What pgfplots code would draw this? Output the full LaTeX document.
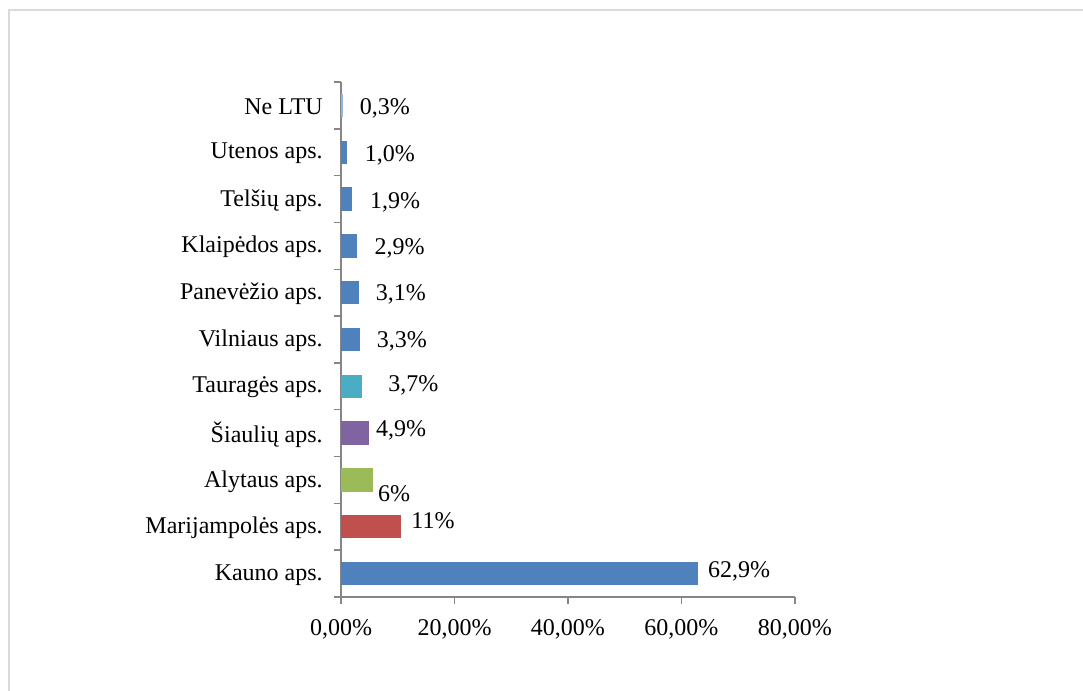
\documentclass[border=0pt]{standalone}
\usepackage{fontspec}
\setmainfont{Liberation Serif}
\usepackage{pgfplots}
\pgfplotsset{compat=1.18}
\definecolor{xlBlue}{HTML}{4F81BD}
\definecolor{xlRed}{HTML}{C0504D}
\definecolor{xlGreen}{HTML}{9BBB59}
\definecolor{xlPurple}{HTML}{8064A2}
\definecolor{xlTeal}{HTML}{4BACC6}
\definecolor{xlLight}{HTML}{8EB4E3}
\definecolor{AxisGray}{HTML}{868686}
\definecolor{FrameGray}{HTML}{D9D9D9}

% one bar per category, label offsets in px (1px = 0.75pt)
\newcommand{\onebar}[6]{%
  \addplot[xbar,bar width=0.5,bar shift=0pt,fill=#1,draw=none,
    nodes near coords={#3},
    nodes near coords style={anchor=west,inner sep=0pt,text=black,
      xshift=#4*0.75pt,yshift=#5*0.75pt}]
    coordinates {(#2,#6)};}

\begin{document}
\fontsize{18}{21.6}\selectfont
\begin{tikzpicture}
\useasboundingbox (0,0) rectangle (812.25pt,518.25pt);
\draw[FrameGray,line width=1pt] (6.75pt,-20pt) -- (6.75pt,510.75pt) -- (830pt,510.75pt);
\begin{axis}[
  at={(255.75pt,70.5pt)},anchor=south west,
  scale only axis,width=340.5pt,height=386.25pt,
  xmin=0,xmax=80,ymin=-0.5,ymax=10.5,
  axis x line*=bottom,axis y line*=left,
  axis line style={AxisGray,line width=1.1pt},
  tick align=outside,
  major tick length=5pt,
  tick style={AxisGray,line width=1.1pt},
  xtick={0,20,40,60,80},
  xticklabels={{0,00\%},{20,00\%},{40,00\%},{60,00\%},{80,00\%}},
  xticklabel style={anchor=north,inner sep=0pt,yshift=-11.5pt},
  ytick={-0.5,0.5,...,10.5},
  yticklabels={},
  extra y ticks={0,...,10},
  extra y tick labels={Kauno aps.,Marijampolės aps.,Alytaus aps.,Šiaulių aps.,Tauragės aps.,Vilniaus aps.,Panevėžio aps.,Klaipėdos aps.,Telšių aps.,Utenos aps.,Ne LTU},
  extra y tick style={major tick length=0pt,
    yticklabel style={anchor=east,inner sep=0pt,xshift=-13.5pt,yshift=-1pt}},
  tick label style={font=\fontsize{18}{21.6}\selectfont},
  every node near coord/.append style={font=\fontsize{18}{21.6}\selectfont},
  clip=false,
]
\onebar{xlBlue}{62.9}{62,9\%}{10}{2}{0}
\onebar{xlRed}{10.6}{11\%}{10}{6}{1}
\onebar{xlGreen}{5.6}{6\%}{5}{-14}{2}
\onebar{xlPurple}{4.9}{4,9\%}{7}{3}{3}
\onebar{xlTeal}{3.7}{3,7\%}{26}{1}{4}
\onebar{xlBlue}{3.3}{3,3\%}{17}{-2}{5}
\onebar{xlBlue}{3.1}{3,1\%}{17}{-2}{6}
\onebar{xlBlue}{2.9}{2,9\%}{17}{-3}{7}
\onebar{xlBlue}{1.9}{1,9\%}{18}{-3}{8}
\onebar{xlBlue}{1.0}{1,0\%}{18}{-3}{9}
\onebar{xlLight}{0.3}{0,3\%}{17}{-3}{10}
\end{axis}
\end{tikzpicture}
\end{document}
